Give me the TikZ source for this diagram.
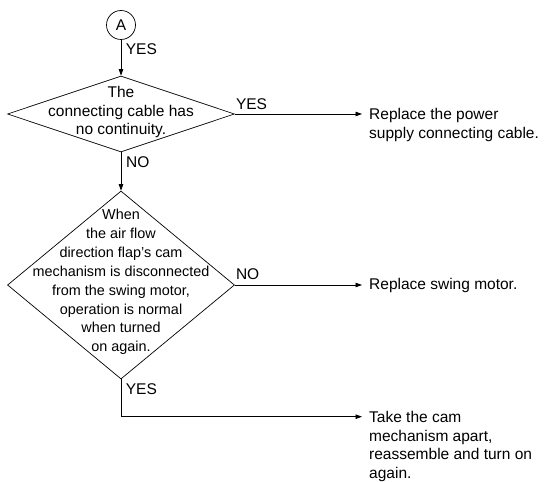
\documentclass[tikz,border=0pt]{standalone}
\usepackage{fontspec}
\setmainfont{Liberation Sans}
\usetikzlibrary{shapes.geometric,arrows.meta}
\tikzset{
  line/.style={line width=0.7pt, draw=black},
  arr/.style={line, -{Triangle[length=6.5pt,width=4.5pt]}},
  dia/.style={diamond, draw, line width=0.7pt, inner sep=0pt, aspect=1},
  txt/.style={inner sep=0pt, align=center, font=\fontsize{15.5}{18.8}\selectfont},
  txtsmall/.style={inner sep=0pt, align=center, font=\fontsize{14.4}{18.86}\selectfont},
  res/.style={inner ysep=0pt, inner xsep=7pt, align=left, anchor=north west, font=\fontsize{15.5}{18.8}\selectfont},
  lab/.style={inner sep=0pt, anchor=base west, font=\fontsize{15.5}{18.8}\selectfont},
}
\begin{document}
\begin{tikzpicture}[x=1pt,y=-1pt]
\useasboundingbox (0,0) rectangle (545,481);
% connector circle
\node[circle, draw, line width=0.7pt, minimum size=29pt, inner sep=0pt, font=\fontsize{15.5}{18.8}\selectfont] (A) at (121,25) {A};
% decision 1
\node[dia, minimum width=227pt, minimum height=76pt] (d1) at (121,114) {};
\node[txt] (d1t) at (121,112) {The\\connecting cable has\\no continuity.};
% decision 2
\node[dia, minimum width=227pt, minimum height=188pt] (d2) at (121,285) {};
\node[txtsmall] (d2t) at (121,282) {When\\the air flow\\direction flap's cam\\mechanism is disconnected\\from the swing motor,\\operation is normal\\when turned\\on again.};
% results
\node[res] (r1) at (362,108.2) {Replace the power\\supply connecting cable.};
\node[res] (r2) at (362,278.2) {Replace swing motor.};
\node[res] (r3) at (362,410.9) {Take the cam\\mechanism apart,\\reassemble and turn on\\again.};
\coordinate (r3in) at (362,416.7);
% connectors
\draw[arr] (A) -- (d1);
\draw[arr] (d1) -- (d2);
\draw[arr] (d1.east) -- (d1.east -| r1.west);
\draw[arr] (d2.east) -- (d2.east -| r2.west);
\draw[arr] (d2.south) |- (r3in);
% labels
\node[lab] (l1) at ([xshift=4.7pt,yshift=-15pt]A.south) {YES};
\node[lab] (l2) at ([xshift=5pt,yshift=-15pt]d1.south) {NO};
\node[lab] (l3) at ([xshift=1pt,yshift=4.5pt]d1.east) {YES};
\node[lab] (l4) at ([xshift=1pt,yshift=5.3pt]d2.east) {NO};
\node[lab] (l5) at ([xshift=4.7pt,yshift=-15pt]d2.south) {YES};
\end{tikzpicture}
\end{document}
